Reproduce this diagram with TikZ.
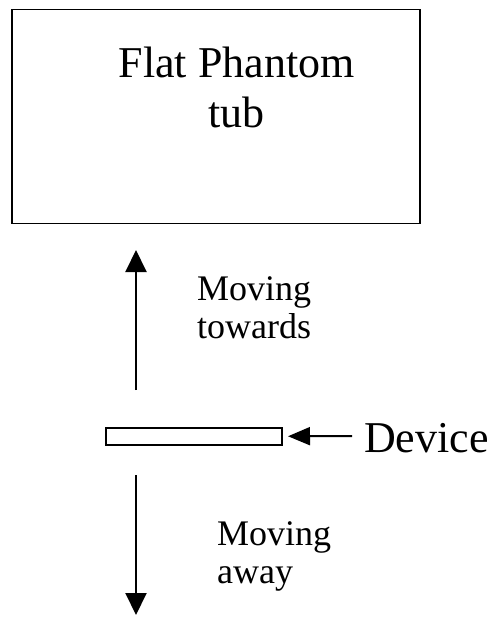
\documentclass[tikz,border=0pt]{standalone}
\usepackage{fontspec}
\setmainfont{Liberation Serif}
\usetikzlibrary{arrows.meta}
\begin{document}
\begin{tikzpicture}[x=1pt,y=-1pt,
  arr/.style={line width=2pt,-{Triangle[length=22pt,width=21pt]}},
  lbl/.style={inner sep=0pt,font=\fontsize{36}{38}\selectfont,align=left}]
\useasboundingbox (0,0) rectangle (491,617);
\node (tub) [draw,line width=1.5pt,minimum width=408pt,minimum height=214pt,inner sep=0pt,anchor=north west] at (11,9) {};
\node (tubtext) [inner sep=0pt,anchor=base,align=center,font=\fontsize{44}{50}\selectfont] at (236.5,128) {Flat Phantom\\tub};
\node (dev) [draw,line width=1.5pt,minimum width=176pt,minimum height=17pt,inner sep=0pt,anchor=north west] at (105,427) {};
\node (devlbl) [inner sep=0pt,anchor=base west,font=\fontsize{44}{50}\selectfont] at (364,452) {Device};
\node (tow) [lbl,anchor=base west] at (197,338) {Moving\\towards};
\node (away) [lbl,anchor=base west] at (217,583) {Moving\\away};
\coordinate (upS) at (136,390);
\coordinate (upE) at (136,250);
\coordinate (dnS) at (136,475);
\coordinate (dnE) at (136,615);
\coordinate (dvS) at (352,436);
\draw[arr] (upS) -- (upE);
\draw[arr] (dnS) -- (dnE);
\draw[arr,-{Triangle[length=22pt,width=18pt]}] (dvS) -- (dev.east -| 288,0);
\end{tikzpicture}
\end{document}
